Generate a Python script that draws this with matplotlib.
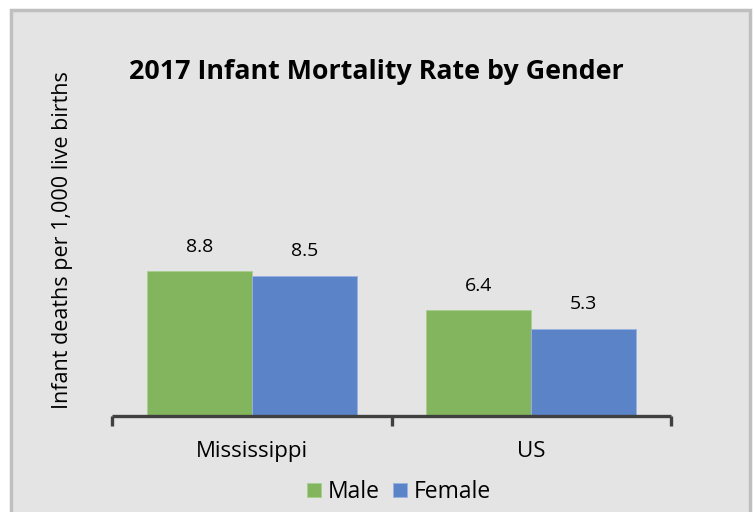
import matplotlib
matplotlib.use('Agg')
from matplotlib import pyplot as plt
from matplotlib.patches import Rectangle
import numpy as np

regions = ['Mississippi', 'US']
male = [8.8, 6.4]
female = [8.5, 5.3]
series_names = ['Male', 'Female']

green = '#82b55e'
blue = '#5b83c8'
bg = '#e4e4e4'

plt.rcParams['font.family'] = ['Open Sans', 'DejaVu Sans']

fig = plt.figure(figsize=(7.54, 5.12), dpi=100)
fig.patch.set_facecolor('white')
# grey chart area with a thin border
fig.patches.append(Rectangle((11 / 754, -0.01), 739 / 754, 1 - 10 / 512 + 0.01,
                             transform=fig.transFigure, facecolor=bg,
                             edgecolor='#bfbfbf', linewidth=2.5, zorder=-5))

ax = fig.add_axes([112 / 754, 1 - 416 / 512, 559 / 754, 297 / 512])
ax.set_facecolor('none')

x = np.arange(len(regions))
w = 0.375
b1 = ax.bar(x - w / 2, male, w, color=green, edgecolor='#a9cf8f', linewidth=0.6, label=series_names[0])
b2 = ax.bar(x + w / 2, female, w, color=blue, edgecolor='#9ab3e0', linewidth=0.6, label=series_names[1])

for bars, vals in [(b1, male), (b2, female)]:
    for r, v in zip(bars, vals):
        ax.annotate(f'{v:.1f}', (r.get_x() + r.get_width() / 2, v), xytext=(0, 11),
                    textcoords='offset points', ha='center', va='bottom', fontsize=14)

ax.set_xlim(-0.5, 1.5)
ax.set_ylim(0, 18)
ax.set_yticks([])
for s in ['top', 'right', 'left']:
    ax.spines[s].set_visible(False)
ax.spines['bottom'].set_color('#404040')
ax.spines['bottom'].set_linewidth(2.4)
ax.spines['bottom'].set_capstyle('butt')

ax.set_xticks(x)
ax.set_xticklabels(regions, fontsize=16)
ax.tick_params(axis='x', which='major', length=0, pad=18)
ax.set_xticks([-0.5, 0.5, 1.5], minor=True)
ax.tick_params(axis='x', which='minor', length=7, width=2.4, color='#404040', direction='out')

ax.set_ylabel('Infant deaths per 1,000 live births', fontsize=15.5)
ax.yaxis.set_label_coords((73 - 112) / 559, 0.592)

fig.text(376 / 754, 1 - 72 / 512, '2017 Infant Mortality Rate by Gender',
         ha='center', va='center', fontsize=19.3, fontweight='bold')

leg = fig.legend(loc='center', bbox_to_anchor=(399 / 754, 1 - 492 / 512), ncol=2,
                 frameon=False, fontsize=16.5, handlelength=0.58, handleheight=0.58,
                 handletextpad=0.3, columnspacing=0.6, borderpad=0.2)

fig.savefig('out.png', dpi=100, facecolor='white')
